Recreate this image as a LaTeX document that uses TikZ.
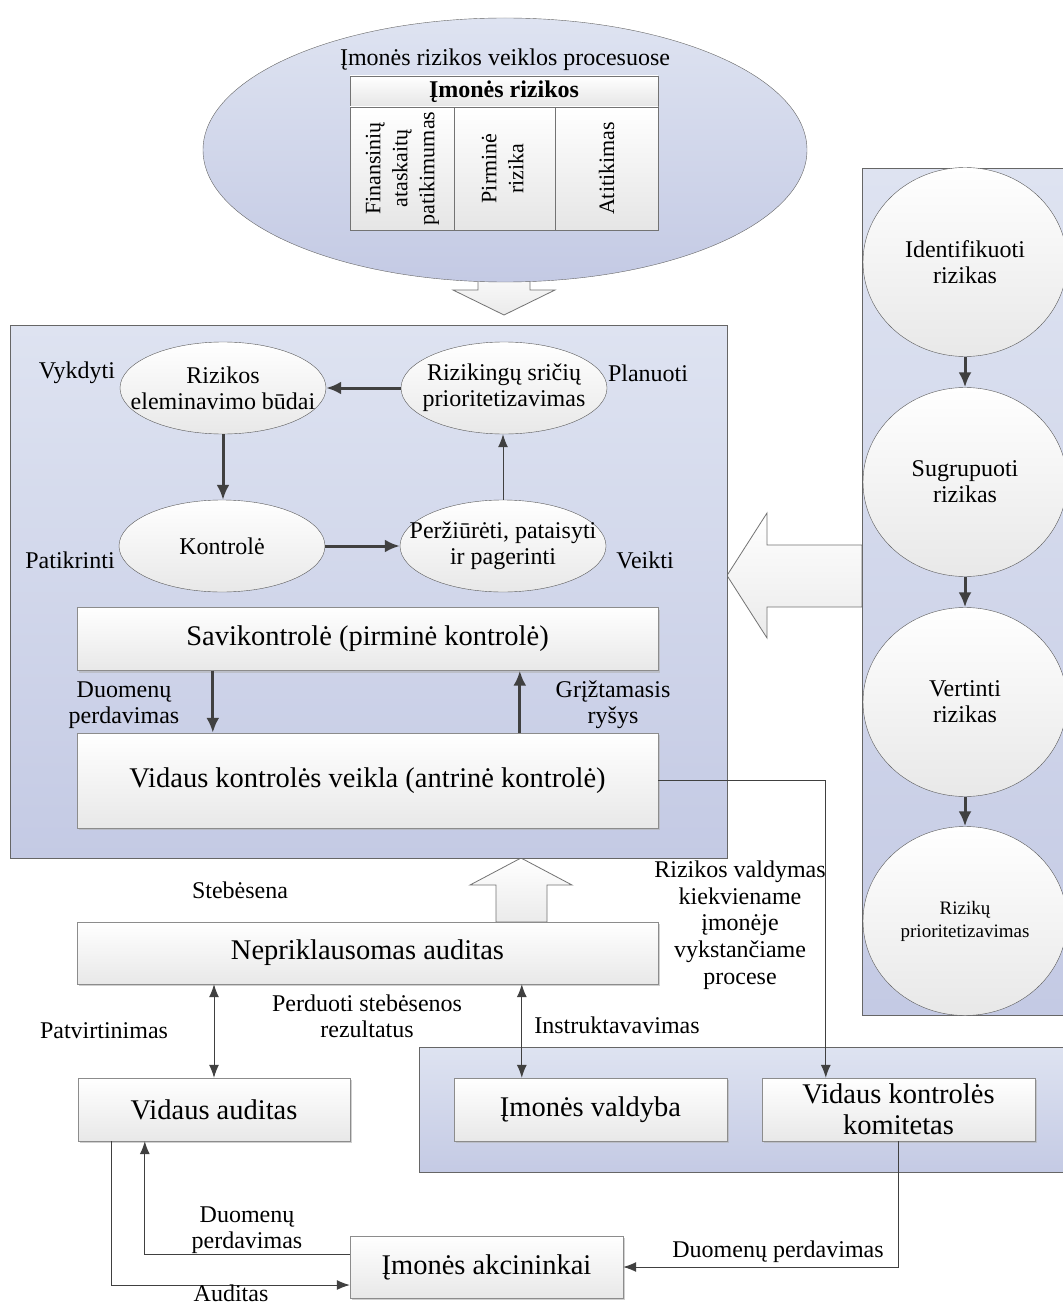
\documentclass[tikz,border=0pt]{standalone}
\usepackage{fontspec}
\setmainfont{Liberation Serif}
\usetikzlibrary{arrows.meta, shapes.geometric, calc, shadows}

\definecolor{panelhi}{RGB}{222,227,241}
\definecolor{panello}{RGB}{196,202,228}
\definecolor{linegray}{RGB}{64,64,64}

\newcommand{\lbl}{\fontsize{24}{26}\selectfont}
\newcommand{\bigtxt}{\fontsize{28.5}{31}\selectfont}
\newcommand{\smalltxt}{\fontsize{19}{23}\selectfont}
\newcommand{\celltxt}{\fontsize{22}{27}\selectfont}

\tikzset{
  panel/.style={draw=black!60, top color=panelhi, bottom color=panello, inner sep=0pt},
  box/.style={draw=black!45, top color=white, bottom color=black!9,
    drop shadow={shadow xshift=2pt, shadow yshift=-2pt, fill=black!30, opacity=0.6},
    align=center, font=\bigtxt, inner sep=0pt},
  oval/.style={ellipse, draw=black!65, top color=white, bottom color=black!9, inner sep=0pt},
  cell/.style={draw=black!55, top color=white, bottom color=black!10, inner sep=0pt, font=\celltxt},
  lab/.style={align=center, font=\lbl},
  arr/.style={draw=linegray, line width=3pt, -{Latex[length=15pt,width=13pt]}},
  thinarr/.style={draw=linegray, line width=1pt, -{Latex[length=13pt,width=10pt]}},
  dblarr/.style={draw=linegray, line width=1pt, {Latex[length=13pt,width=10pt]}-{Latex[length=13pt,width=10pt]}},
  blockarr/.style={draw=black!55, line width=0.8pt, top color=white, bottom color=black!8},
}

\begin{document}
\begin{tikzpicture}[x=1pt, y=-1pt]
    \fill[white] (0,0) rectangle (1062,1305);
    \useasboundingbox (0,0) rectangle (1062,1305);

    % block arrows (behind the panels)
    \draw[blockarr] (478,262) -- (530,262) -- (530,290) -- (555,290) -- (504,315) -- (453,290) -- (478,290) -- cycle;
    \draw[blockarr] (862,545) -- (767,545) -- (767,513) -- (727,575.5) -- (767,638) -- (767,607) -- (862,607) -- cycle;
    \draw[blockarr] (496,922) -- (496,885) -- (470,885) -- (521,858) -- (572,885) -- (547,885) -- (547,922) -- cycle;

    % risks in the processes
    \node[panel, ellipse, minimum width=604, minimum height=264] (procesai) at (505,150) {};
    \node[lab] (proctitle) at (505,60) {Įmonės rizikos veiklos procesuose};
    \node[cell, minimum width=308, minimum height=31, font=\lbl\bfseries] (hdr) at (504,91.5) {Įmonės rizikos};
    \node[cell, minimum width=104, minimum height=123] (fin) at (402,168.5)
        {\rotatebox{90}{\begin{tabular}{@{}c@{}}Finansinių\\ataskaitų\\patikimumas\end{tabular}}};
    \node[cell, minimum width=101, minimum height=123] (pirm) at (504.5,168.5)
        {\rotatebox{90}{\begin{tabular}{@{}c@{}}Pirminė\\rizika\end{tabular}}};
    \node[cell, minimum width=103, minimum height=123] (atit) at (606.5,168.5)
        {\rotatebox{90}{Atitikimas}};

    % control cycle
    \node[panel, anchor=north west, minimum width=717, minimum height=533] (vidus) at (10,325) {};
    \node[oval, minimum width=206, minimum height=92, label={[lab]center:Rizikos\\eleminavimo būdai}] (rizel) at (223,388) {};
    \node[oval, minimum width=206, minimum height=92, label={[lab]center:Rizikingų sričių\\prioritetizavimas}] (prior) at (504,388) {};
    \node[oval, minimum width=206, minimum height=92, label={[lab]center:Kontrolė}] (kontr) at (222,546) {};
    \node[oval, minimum width=206, minimum height=92, label={[lab]center:Peržiūrėti, pataisyti\\ir pagerinti}] (perz) at (503,546) {};
    \node[lab] (vykd) at (77,373) {Vykdyti};
    \node[lab] (plan) at (648,373) {Planuoti};
    \node[lab] (patik) at (70,560) {Patikrinti};
    \node[lab] (veik) at (645,560) {Veikti};
    \draw[arr] (prior) -- (rizel);
    \draw[arr] (rizel.south) -- (rizel.south |- kontr.north);
    \draw[arr] (kontr) -- (perz);
    \draw[thinarr] (perz.north) -- (perz.north |- prior.south);

    \node[box, minimum width=581, minimum height=63] (savi) at (367.5,639) {Savikontrolė (pirminė kontrolė)};
    \node[box, minimum width=581, minimum height=95] (veikla) at (367.5,780.5) {Vidaus kontrolės veikla (antrinė kontrolė)};
    \draw[arr] ($(savi.south west)+(136,0)$) coordinate (d1) -- (d1 |- veikla.north);
    \draw[arr] ($(veikla.north west)+(443,0)$) coordinate (g1) -- (g1 |- savi.south);
    \node[lab] (duom1) at (124,705) {Duomenų\\perdavimas};
    \node[lab] (grizt) at (613,705) {Grįžtamasis\\ryšys};

    % risk assessment steps
    \node[panel, anchor=north west, minimum width=206, minimum height=847] (eiga) at (862,168) {};
    \node[oval, minimum width=204, minimum height=189, label={[lab]center:Identifikuoti\\rizikas}] (ident) at (965,262) {};
    \node[oval, minimum width=204, minimum height=189, label={[lab]center:Sugrupuoti\\rizikas}] (grup) at (965,482) {};
    \node[oval, minimum width=204, minimum height=189, label={[lab]center:Vertinti\\rizikas}] (vert) at (965,702) {};
    \node[oval, minimum width=204, minimum height=189, label={[lab, font=\smalltxt]center:Rizikų\\prioritetizavimas}] (prio) at (965,921) {};
    \draw[arr] (ident) -- (grup);
    \draw[arr] (grup) -- (vert);
    \draw[arr] (vert) -- (prio);

    % audit and management
    \node[lab] (steb) at (240,890) {Stebėsena};
    \node[box, minimum width=581, minimum height=62] (nepr) at (367.5,953) {Nepriklausomas auditas};
    \node[panel, anchor=north west, minimum width=648, minimum height=125] (valdymas) at (419,1047) {};
    \node[box, minimum width=272, minimum height=63] (vaudit) at (214,1109.5) {Vidaus auditas};
    \node[box, minimum width=273, minimum height=63] (valdyba) at (590.5,1109.5) {Įmonės valdyba};
    \node[box, minimum width=273, minimum height=63] (kom) at (898.5,1109.5) {Vidaus kontrolės\\komitetas};
    \node[box, minimum width=273, minimum height=62] (akc) at (486.5,1267) {Įmonės akcininkai};

    \draw[dblarr] (vaudit.north) -- (vaudit.north |- nepr.south);
    \draw[dblarr] ($(valdyba.north west)+(68,0)$) coordinate (i1) -- (i1 |- nepr.south);
    \draw[thinarr] (veikla.east) -| ($(kom.north west)+(64,0)$);
    \draw[thinarr] ($(akc.west)+(0,-13)$) -| ($(vaudit.south west)+(67,0)$);
    \draw[thinarr] ($(vaudit.south west)+(34,0)$) |- ($(akc.west)+(0,18)$);
    \draw[thinarr] (kom.south) |- (akc.east);

    \node[lab, font=\fontsize{24}{26.7}\selectfont] (rvald) at (740,925) {Rizikos valdymas\\kiekviename\\įmonėje\\vykstančiame\\procese};
    \node[lab] (patv) at (104,1031) {Patvirtinimas};
    \node[lab] (perd) at (367,1016) {Perduoti stebėsenos\\rezultatus};
    \node[lab] (instr) at (617,1025) {Instruktavavimas};
    \node[lab] (duom2) at (247,1230) {Duomenų\\perdavimas};
    \node[lab] (audl) at (231,1293) {Auditas};
    \node[lab] (duom3) at (778,1252) {Duomenų perdavimas};

\end{tikzpicture}
\end{document}
